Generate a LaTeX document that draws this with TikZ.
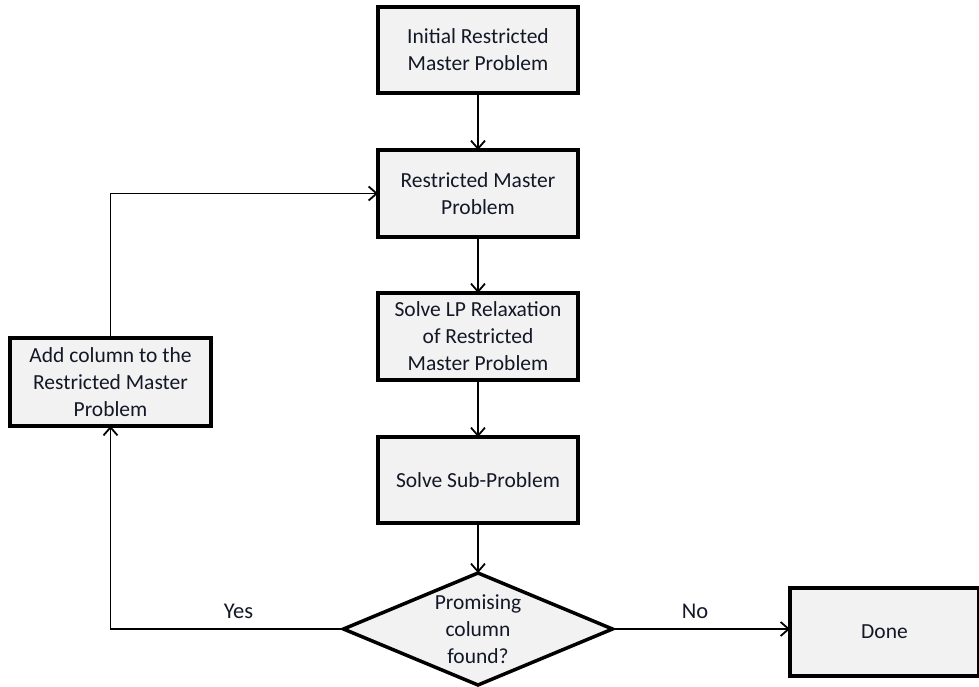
\documentclass[tikz,border=0pt]{standalone}
\usepackage{fontspec}
\setmainfont{Carlito}
\usetikzlibrary{arrows.meta,shapes.geometric}
\definecolor{boxfill}{HTML}{F2F2F2}
\definecolor{txt}{HTML}{141826}
\tikzset{
  procbox/.style={draw=black, line width=3.5pt, fill=boxfill, rectangle, inner sep=0pt, outer sep=0pt,
    align=center, text=txt, font=\fontsize{21.5}{27}\selectfont},
  decbox/.style={draw=black, line width=3.5pt, fill=boxfill, diamond, inner sep=0pt, outer sep=0pt},
  txtnode/.style={align=center, text=txt, font=\fontsize{21.5}{27}\selectfont, inner sep=0pt},
  lbl/.style={text=txt, font=\fontsize{22.5}{27}\selectfont, inner sep=0pt},
  flow/.style={draw=black, line width=1.8pt, -{Straight Barb[length=8pt,width=14pt,line width=1.8pt]}}
}
\begin{document}
\begin{tikzpicture}[x=1pt,y=-1pt]
\useasboundingbox (0,0) rectangle (979,687);
\node[procbox, minimum width=200pt, minimum height=86pt] (b1) at (478,50) {Initial Restricted\\Master Problem};
\node[procbox, minimum width=200pt, minimum height=87pt] (b2) at (478,193.5) {Restricted Master\\Problem};
\node[procbox, minimum width=200pt, minimum height=87pt] (b3) at (478,336.5) {Solve LP Relaxation\\of Restricted\\Master Problem};
\node[procbox, minimum width=200pt, minimum height=86pt] (b4) at (478,480) {Solve Sub-Problem};
\node[decbox, minimum width=269pt, minimum height=112pt] (d) at (478,629) {};
\node[txtnode] (dt) at (d.center) {Promising\\column\\found?};
\node[procbox, minimum width=189pt, minimum height=88pt] (done) at (884.5,632) {Done};
\node[procbox, minimum width=201pt, minimum height=88pt] (add) at (110.5,382) {Add column to the\\Restricted Master\\Problem};
\draw[flow] (b1) -- (b2);
\draw[flow] (b2) -- (b3);
\draw[flow] (b3) -- (b4);
\draw[flow] (b4) -- (d);
\draw[flow] (d.east) -- (done.west |- d.east);
\draw[flow] (d.west) -| (add.south);
\draw[flow] (add.north) |- (b2.west);
\node[lbl] (yes) at (238.5,611) {Yes};
\node[lbl] (no) at (695,611) {No};
\end{tikzpicture}
\end{document}
